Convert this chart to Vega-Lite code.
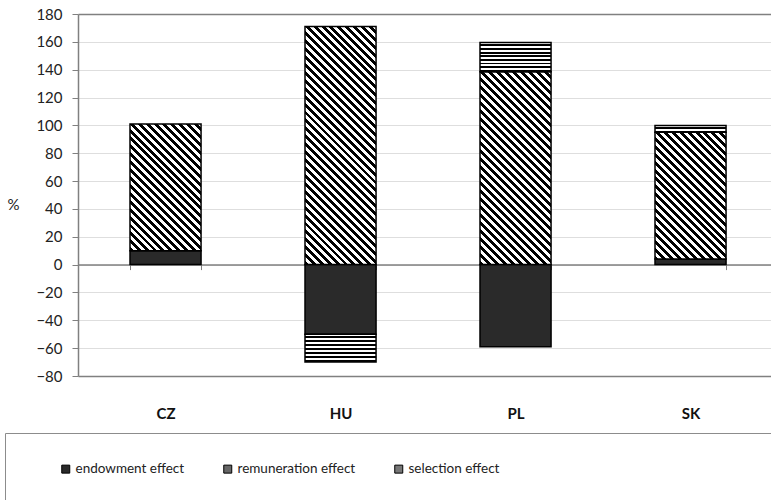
{
"$schema": "https://vega.github.io/schema/vega-lite/v6.json",
"width": 693,
"height": 362,
"autosize": {"type": "none"},
"padding": {"left": 78, "top": 14, "right": 0, "bottom": 124},
"background": "white",
"config": {"font": "Lato", "view": {"stroke": null}},
"data": {"values": [
{"country": "CZ", "effect": "endowment effect", "value": 10},
{"country": "CZ", "effect": "remuneration effect", "value": 91},
{"country": "HU", "effect": "endowment effect", "value": -50},
{"country": "HU", "effect": "remuneration effect", "value": 171},
{"country": "HU", "effect": "selection effect", "value": -20},
{"country": "PL", "effect": "endowment effect", "value": -59},
{"country": "PL", "effect": "remuneration effect", "value": 138.5},
{"country": "PL", "effect": "selection effect", "value": 21},
{"country": "SK", "effect": "endowment effect", "value": 4},
{"country": "SK", "effect": "remuneration effect", "value": 91},
{"country": "SK", "effect": "selection effect", "value": 5}
]},
"mark": {"type": "bar", "stroke": "#000", "strokeWidth": 1.5},
"encoding": {
"x": {"field": "country", "type": "nominal", "sort": ["CZ", "HU", "PL", "SK"],
 "scale": {"paddingInner": 0.594, "paddingOuter": 0.277, "align": 0.5364},
 "axis": {"title": null, "offset": -111.4, "domainColor": "#808080", "domainWidth": 1.5, "tickBand": "extent", "tickColor": "#808080", "tickSize": 5, "labelPadding": 137, "labelFontSize": 15, "labelFontWeight": "bold", "labelColor": "#111", "labelAngle": 0, "grid": false}},
"y": {"field": "value", "type": "quantitative", "stack": "zero",
 "scale": {"domain": [-80, 180], "nice": false, "zero": false},
 "axis": {"title": "%", "titleAngle": 0, "titleX": -65, "titleY": 190, "titleAlign": "center", "titleBaseline": "middle", "titleFontSize": 15, "titleFontWeight": "normal", "titleColor": "#222",
  "values": [-80, -60, -40, -20, 0, 20, 40, 60, 80, 100, 120, 140, 160, 180],
  "labelFontSize": 15, "labelColor": "#222", "labelPadding": 10, "tickSize": 6, "tickColor": "#808080", "domainColor": "#808080", "domainWidth": 1.5,
  "gridColor": {"condition": {"test": "datum.value === 180 || datum.value === -80", "value": "#808080"}, "value": "#bdbdbd"},
  "gridDash": {"condition": {"test": "datum.value === 180 || datum.value === -80", "value": []}, "value": [1, 1]},
  "gridWidth": {"condition": {"test": "datum.value === 180 || datum.value === -80", "value": 1.5}, "value": 1}}},
"order": {"field": "effect", "type": "nominal", "sort": "ascending"},
"fill": {"field": "effect", "type": "nominal",
 "scale": {"domain": ["endowment effect", "remuneration effect", "selection effect"], "range": ["#2a2a2a", "#666666", "#777777"]},
 "legend": {"orient": "none", "legendX": -73, "legendY": 419, "direction": "horizontal", "title": " ", "titleOrient": "left", "titlePadding": 25, "titleFontSize": 13, "padding": 29, "strokeColor": "#8c8c8c", "symbolType": "square", "symbolSize": 64, "symbolStrokeColor": "#000", "symbolStrokeWidth": 1, "labelFontSize": 13.5, "labelColor": "#222", "labelOffset": 3, "columnPadding": 36, "labelLimit": 2000,
  "labelExpr": "datum.label === 'selection effect' ? datum.label + '\u2800\u2800\u2800\u2800\u2800\u2800\u2800\u2800\u2800\u2800\u2800\u2800\u2800\u2800\u2800\u2800\u2800\u2800\u2800\u2800\u2800\u2800\u2800\u2800\u2800\u2800' : datum.label"},
 "condition": [
 {"test": "datum.effect === 'remuneration effect' && (datum.country === 'CZ' || datum.country === 'SK')",
  "value": {"gradient": "linear", "x1": 0, "y1": 1, "x2": 0.6659, "y2": -0.1874, "stops": [
{"offset":0,"color":"#000"},{"offset":0.02,"color":"#000"},{"offset":0.02,"color":"#fff"},{"offset":0.04,"color":"#fff"},
{"offset":0.04,"color":"#000"},{"offset":0.06,"color":"#000"},{"offset":0.06,"color":"#fff"},{"offset":0.08,"color":"#fff"},
{"offset":0.08,"color":"#000"},{"offset":0.10,"color":"#000"},{"offset":0.10,"color":"#fff"},{"offset":0.12,"color":"#fff"},
{"offset":0.12,"color":"#000"},{"offset":0.14,"color":"#000"},{"offset":0.14,"color":"#fff"},{"offset":0.16,"color":"#fff"},
{"offset":0.16,"color":"#000"},{"offset":0.18,"color":"#000"},{"offset":0.18,"color":"#fff"},{"offset":0.20,"color":"#fff"},
{"offset":0.20,"color":"#000"},{"offset":0.22,"color":"#000"},{"offset":0.22,"color":"#fff"},{"offset":0.24,"color":"#fff"},
{"offset":0.24,"color":"#000"},{"offset":0.26,"color":"#000"},{"offset":0.26,"color":"#fff"},{"offset":0.28,"color":"#fff"},
{"offset":0.28,"color":"#000"},{"offset":0.30,"color":"#000"},{"offset":0.30,"color":"#fff"},{"offset":0.32,"color":"#fff"},
{"offset":0.32,"color":"#000"},{"offset":0.34,"color":"#000"},{"offset":0.34,"color":"#fff"},{"offset":0.36,"color":"#fff"},
{"offset":0.36,"color":"#000"},{"offset":0.38,"color":"#000"},{"offset":0.38,"color":"#fff"},{"offset":0.40,"color":"#fff"},
{"offset":0.40,"color":"#000"},{"offset":0.42,"color":"#000"},{"offset":0.42,"color":"#fff"},{"offset":0.44,"color":"#fff"},
{"offset":0.44,"color":"#000"},{"offset":0.46,"color":"#000"},{"offset":0.46,"color":"#fff"},{"offset":0.48,"color":"#fff"},
{"offset":0.48,"color":"#000"},{"offset":0.50,"color":"#000"},{"offset":0.50,"color":"#fff"},{"offset":0.52,"color":"#fff"},
{"offset":0.52,"color":"#000"},{"offset":0.54,"color":"#000"},{"offset":0.54,"color":"#fff"},{"offset":0.56,"color":"#fff"},
{"offset":0.56,"color":"#000"},{"offset":0.58,"color":"#000"},{"offset":0.58,"color":"#fff"},{"offset":0.60,"color":"#fff"},
{"offset":0.60,"color":"#000"},{"offset":0.62,"color":"#000"},{"offset":0.62,"color":"#fff"},{"offset":0.64,"color":"#fff"},
{"offset":0.64,"color":"#000"},{"offset":0.66,"color":"#000"},{"offset":0.66,"color":"#fff"},{"offset":0.68,"color":"#fff"},
{"offset":0.68,"color":"#000"},{"offset":0.70,"color":"#000"},{"offset":0.70,"color":"#fff"},{"offset":0.72,"color":"#fff"},
{"offset":0.72,"color":"#000"},{"offset":0.74,"color":"#000"},{"offset":0.74,"color":"#fff"},{"offset":0.76,"color":"#fff"},
{"offset":0.76,"color":"#000"},{"offset":0.78,"color":"#000"},{"offset":0.78,"color":"#fff"},{"offset":0.80,"color":"#fff"},
{"offset":0.80,"color":"#000"},{"offset":0.82,"color":"#000"},{"offset":0.82,"color":"#fff"},{"offset":0.84,"color":"#fff"},
{"offset":0.84,"color":"#000"},{"offset":0.86,"color":"#000"},{"offset":0.86,"color":"#fff"},{"offset":0.88,"color":"#fff"},
{"offset":0.88,"color":"#000"},{"offset":0.90,"color":"#000"},{"offset":0.90,"color":"#fff"},{"offset":0.92,"color":"#fff"},
{"offset":0.92,"color":"#000"},{"offset":0.94,"color":"#000"},{"offset":0.94,"color":"#fff"},{"offset":0.96,"color":"#fff"},
{"offset":0.96,"color":"#000"},{"offset":0.98,"color":"#000"},{"offset":0.98,"color":"#fff"},{"offset":1,"color":"#fff"}
  ]}},
 {"test": "datum.effect === 'remuneration effect' && datum.country === 'HU'",
  "value": {"gradient": "linear", "x1": 0, "y1": 1, "x2": 0.3558, "y2": -0.1923, "stops": [
{"offset":0,"color":"#000"},{"offset":0.0128,"color":"#000"},{"offset":0.0128,"color":"#fff"},{"offset":0.0256,"color":"#fff"},
{"offset":0.0256,"color":"#000"},{"offset":0.0385,"color":"#000"},{"offset":0.0385,"color":"#fff"},{"offset":0.0513,"color":"#fff"},
{"offset":0.0513,"color":"#000"},{"offset":0.0641,"color":"#000"},{"offset":0.0641,"color":"#fff"},{"offset":0.0769,"color":"#fff"},
{"offset":0.0769,"color":"#000"},{"offset":0.0897,"color":"#000"},{"offset":0.0897,"color":"#fff"},{"offset":0.1026,"color":"#fff"},
{"offset":0.1026,"color":"#000"},{"offset":0.1154,"color":"#000"},{"offset":0.1154,"color":"#fff"},{"offset":0.1282,"color":"#fff"},
{"offset":0.1282,"color":"#000"},{"offset":0.141,"color":"#000"},{"offset":0.141,"color":"#fff"},{"offset":0.1538,"color":"#fff"},
{"offset":0.1538,"color":"#000"},{"offset":0.1667,"color":"#000"},{"offset":0.1667,"color":"#fff"},{"offset":0.1795,"color":"#fff"},
{"offset":0.1795,"color":"#000"},{"offset":0.1923,"color":"#000"},{"offset":0.1923,"color":"#fff"},{"offset":0.2051,"color":"#fff"},
{"offset":0.2051,"color":"#000"},{"offset":0.2179,"color":"#000"},{"offset":0.2179,"color":"#fff"},{"offset":0.2308,"color":"#fff"},
{"offset":0.2308,"color":"#000"},{"offset":0.2436,"color":"#000"},{"offset":0.2436,"color":"#fff"},{"offset":0.2564,"color":"#fff"},
{"offset":0.2564,"color":"#000"},{"offset":0.2692,"color":"#000"},{"offset":0.2692,"color":"#fff"},{"offset":0.2821,"color":"#fff"},
{"offset":0.2821,"color":"#000"},{"offset":0.2949,"color":"#000"},{"offset":0.2949,"color":"#fff"},{"offset":0.3077,"color":"#fff"},
{"offset":0.3077,"color":"#000"},{"offset":0.3205,"color":"#000"},{"offset":0.3205,"color":"#fff"},{"offset":0.3333,"color":"#fff"},
{"offset":0.3333,"color":"#000"},{"offset":0.3462,"color":"#000"},{"offset":0.3462,"color":"#fff"},{"offset":0.359,"color":"#fff"},
{"offset":0.359,"color":"#000"},{"offset":0.3718,"color":"#000"},{"offset":0.3718,"color":"#fff"},{"offset":0.3846,"color":"#fff"},
{"offset":0.3846,"color":"#000"},{"offset":0.3974,"color":"#000"},{"offset":0.3974,"color":"#fff"},{"offset":0.4103,"color":"#fff"},
{"offset":0.4103,"color":"#000"},{"offset":0.4231,"color":"#000"},{"offset":0.4231,"color":"#fff"},{"offset":0.4359,"color":"#fff"},
{"offset":0.4359,"color":"#000"},{"offset":0.4487,"color":"#000"},{"offset":0.4487,"color":"#fff"},{"offset":0.4615,"color":"#fff"},
{"offset":0.4615,"color":"#000"},{"offset":0.4744,"color":"#000"},{"offset":0.4744,"color":"#fff"},{"offset":0.4872,"color":"#fff"},
{"offset":0.4872,"color":"#000"},{"offset":0.5,"color":"#000"},{"offset":0.5,"color":"#fff"},{"offset":0.5128,"color":"#fff"},
{"offset":0.5128,"color":"#000"},{"offset":0.5256,"color":"#000"},{"offset":0.5256,"color":"#fff"},{"offset":0.5385,"color":"#fff"},
{"offset":0.5385,"color":"#000"},{"offset":0.5513,"color":"#000"},{"offset":0.5513,"color":"#fff"},{"offset":0.5641,"color":"#fff"},
{"offset":0.5641,"color":"#000"},{"offset":0.5769,"color":"#000"},{"offset":0.5769,"color":"#fff"},{"offset":0.5897,"color":"#fff"},
{"offset":0.5897,"color":"#000"},{"offset":0.6026,"color":"#000"},{"offset":0.6026,"color":"#fff"},{"offset":0.6154,"color":"#fff"},
{"offset":0.6154,"color":"#000"},{"offset":0.6282,"color":"#000"},{"offset":0.6282,"color":"#fff"},{"offset":0.641,"color":"#fff"},
{"offset":0.641,"color":"#000"},{"offset":0.6538,"color":"#000"},{"offset":0.6538,"color":"#fff"},{"offset":0.6667,"color":"#fff"},
{"offset":0.6667,"color":"#000"},{"offset":0.6795,"color":"#000"},{"offset":0.6795,"color":"#fff"},{"offset":0.6923,"color":"#fff"},
{"offset":0.6923,"color":"#000"},{"offset":0.7051,"color":"#000"},{"offset":0.7051,"color":"#fff"},{"offset":0.7179,"color":"#fff"},
{"offset":0.7179,"color":"#000"},{"offset":0.7308,"color":"#000"},{"offset":0.7308,"color":"#fff"},{"offset":0.7436,"color":"#fff"},
{"offset":0.7436,"color":"#000"},{"offset":0.7564,"color":"#000"},{"offset":0.7564,"color":"#fff"},{"offset":0.7692,"color":"#fff"},
{"offset":0.7692,"color":"#000"},{"offset":0.7821,"color":"#000"},{"offset":0.7821,"color":"#fff"},{"offset":0.7949,"color":"#fff"},
{"offset":0.7949,"color":"#000"},{"offset":0.8077,"color":"#000"},{"offset":0.8077,"color":"#fff"},{"offset":0.8205,"color":"#fff"},
{"offset":0.8205,"color":"#000"},{"offset":0.8333,"color":"#000"},{"offset":0.8333,"color":"#fff"},{"offset":0.8462,"color":"#fff"},
{"offset":0.8462,"color":"#000"},{"offset":0.859,"color":"#000"},{"offset":0.859,"color":"#fff"},{"offset":0.8718,"color":"#fff"},
{"offset":0.8718,"color":"#000"},{"offset":0.8846,"color":"#000"},{"offset":0.8846,"color":"#fff"},{"offset":0.8974,"color":"#fff"},
{"offset":0.8974,"color":"#000"},{"offset":0.9103,"color":"#000"},{"offset":0.9103,"color":"#fff"},{"offset":0.9231,"color":"#fff"},
{"offset":0.9231,"color":"#000"},{"offset":0.9359,"color":"#000"},{"offset":0.9359,"color":"#fff"},{"offset":0.9487,"color":"#fff"},
{"offset":0.9487,"color":"#000"},{"offset":0.9615,"color":"#000"},{"offset":0.9615,"color":"#fff"},{"offset":0.9744,"color":"#fff"},
{"offset":0.9744,"color":"#000"},{"offset":0.9872,"color":"#000"},{"offset":0.9872,"color":"#fff"},{"offset":1,"color":"#fff"}
  ]}},
 {"test": "datum.effect === 'remuneration effect' && datum.country === 'PL'",
  "value": {"gradient": "linear", "x1": 0, "y1": 1, "x2": 0.4439, "y2": -0.2049, "stops": [
{"offset":0,"color":"#000"},{"offset":0.0152,"color":"#000"},{"offset":0.0152,"color":"#fff"},{"offset":0.0303,"color":"#fff"},
{"offset":0.0303,"color":"#000"},{"offset":0.0455,"color":"#000"},{"offset":0.0455,"color":"#fff"},{"offset":0.0606,"color":"#fff"},
{"offset":0.0606,"color":"#000"},{"offset":0.0758,"color":"#000"},{"offset":0.0758,"color":"#fff"},{"offset":0.0909,"color":"#fff"},
{"offset":0.0909,"color":"#000"},{"offset":0.1061,"color":"#000"},{"offset":0.1061,"color":"#fff"},{"offset":0.1212,"color":"#fff"},
{"offset":0.1212,"color":"#000"},{"offset":0.1364,"color":"#000"},{"offset":0.1364,"color":"#fff"},{"offset":0.1515,"color":"#fff"},
{"offset":0.1515,"color":"#000"},{"offset":0.1667,"color":"#000"},{"offset":0.1667,"color":"#fff"},{"offset":0.1818,"color":"#fff"},
{"offset":0.1818,"color":"#000"},{"offset":0.197,"color":"#000"},{"offset":0.197,"color":"#fff"},{"offset":0.2121,"color":"#fff"},
{"offset":0.2121,"color":"#000"},{"offset":0.2273,"color":"#000"},{"offset":0.2273,"color":"#fff"},{"offset":0.2424,"color":"#fff"},
{"offset":0.2424,"color":"#000"},{"offset":0.2576,"color":"#000"},{"offset":0.2576,"color":"#fff"},{"offset":0.2727,"color":"#fff"},
{"offset":0.2727,"color":"#000"},{"offset":0.2879,"color":"#000"},{"offset":0.2879,"color":"#fff"},{"offset":0.303,"color":"#fff"},
{"offset":0.303,"color":"#000"},{"offset":0.3182,"color":"#000"},{"offset":0.3182,"color":"#fff"},{"offset":0.3333,"color":"#fff"},
{"offset":0.3333,"color":"#000"},{"offset":0.3485,"color":"#000"},{"offset":0.3485,"color":"#fff"},{"offset":0.3636,"color":"#fff"},
{"offset":0.3636,"color":"#000"},{"offset":0.3788,"color":"#000"},{"offset":0.3788,"color":"#fff"},{"offset":0.3939,"color":"#fff"},
{"offset":0.3939,"color":"#000"},{"offset":0.4091,"color":"#000"},{"offset":0.4091,"color":"#fff"},{"offset":0.4242,"color":"#fff"},
{"offset":0.4242,"color":"#000"},{"offset":0.4394,"color":"#000"},{"offset":0.4394,"color":"#fff"},{"offset":0.4545,"color":"#fff"},
{"offset":0.4545,"color":"#000"},{"offset":0.4697,"color":"#000"},{"offset":0.4697,"color":"#fff"},{"offset":0.4848,"color":"#fff"},
{"offset":0.4848,"color":"#000"},{"offset":0.5,"color":"#000"},{"offset":0.5,"color":"#fff"},{"offset":0.5152,"color":"#fff"},
{"offset":0.5152,"color":"#000"},{"offset":0.5303,"color":"#000"},{"offset":0.5303,"color":"#fff"},{"offset":0.5455,"color":"#fff"},
{"offset":0.5455,"color":"#000"},{"offset":0.5606,"color":"#000"},{"offset":0.5606,"color":"#fff"},{"offset":0.5758,"color":"#fff"},
{"offset":0.5758,"color":"#000"},{"offset":0.5909,"color":"#000"},{"offset":0.5909,"color":"#fff"},{"offset":0.6061,"color":"#fff"},
{"offset":0.6061,"color":"#000"},{"offset":0.6212,"color":"#000"},{"offset":0.6212,"color":"#fff"},{"offset":0.6364,"color":"#fff"},
{"offset":0.6364,"color":"#000"},{"offset":0.6515,"color":"#000"},{"offset":0.6515,"color":"#fff"},{"offset":0.6667,"color":"#fff"},
{"offset":0.6667,"color":"#000"},{"offset":0.6818,"color":"#000"},{"offset":0.6818,"color":"#fff"},{"offset":0.697,"color":"#fff"},
{"offset":0.697,"color":"#000"},{"offset":0.7121,"color":"#000"},{"offset":0.7121,"color":"#fff"},{"offset":0.7273,"color":"#fff"},
{"offset":0.7273,"color":"#000"},{"offset":0.7424,"color":"#000"},{"offset":0.7424,"color":"#fff"},{"offset":0.7576,"color":"#fff"},
{"offset":0.7576,"color":"#000"},{"offset":0.7727,"color":"#000"},{"offset":0.7727,"color":"#fff"},{"offset":0.7879,"color":"#fff"},
{"offset":0.7879,"color":"#000"},{"offset":0.803,"color":"#000"},{"offset":0.803,"color":"#fff"},{"offset":0.8182,"color":"#fff"},
{"offset":0.8182,"color":"#000"},{"offset":0.8333,"color":"#000"},{"offset":0.8333,"color":"#fff"},{"offset":0.8485,"color":"#fff"},
{"offset":0.8485,"color":"#000"},{"offset":0.8636,"color":"#000"},{"offset":0.8636,"color":"#fff"},{"offset":0.8788,"color":"#fff"},
{"offset":0.8788,"color":"#000"},{"offset":0.8939,"color":"#000"},{"offset":0.8939,"color":"#fff"},{"offset":0.9091,"color":"#fff"},
{"offset":0.9091,"color":"#000"},{"offset":0.9242,"color":"#000"},{"offset":0.9242,"color":"#fff"},{"offset":0.9394,"color":"#fff"},
{"offset":0.9394,"color":"#000"},{"offset":0.9545,"color":"#000"},{"offset":0.9545,"color":"#fff"},{"offset":0.9697,"color":"#fff"},
{"offset":0.9697,"color":"#000"},{"offset":0.9848,"color":"#000"},{"offset":0.9848,"color":"#fff"},{"offset":1,"color":"#fff"}
  ]}},
 {"test": "datum.effect === 'selection effect' && datum.country === 'HU'",
  "value": {"gradient": "linear", "x1": 0, "y1": 0, "x2": 0, "y2": 1, "stops": [
{"offset":0,"color":"#fff"},{"offset":0.0714,"color":"#fff"},{"offset":0.0714,"color":"#000"},{"offset":0.1429,"color":"#000"},
{"offset":0.1429,"color":"#fff"},{"offset":0.2143,"color":"#fff"},{"offset":0.2143,"color":"#000"},{"offset":0.2857,"color":"#000"},
{"offset":0.2857,"color":"#fff"},{"offset":0.3571,"color":"#fff"},{"offset":0.3571,"color":"#000"},{"offset":0.4286,"color":"#000"},
{"offset":0.4286,"color":"#fff"},{"offset":0.5,"color":"#fff"},{"offset":0.5,"color":"#000"},{"offset":0.5714,"color":"#000"},
{"offset":0.5714,"color":"#fff"},{"offset":0.6429,"color":"#fff"},{"offset":0.6429,"color":"#000"},{"offset":0.7143,"color":"#000"},
{"offset":0.7143,"color":"#fff"},{"offset":0.7857,"color":"#fff"},{"offset":0.7857,"color":"#000"},{"offset":0.8571,"color":"#000"},
{"offset":0.8571,"color":"#fff"},{"offset":0.9286,"color":"#fff"},{"offset":0.9286,"color":"#000"},{"offset":1,"color":"#000"}
  ]}},
 {"test": "datum.effect === 'selection effect' && datum.country === 'PL'",
  "value": {"gradient": "linear", "x1": 0, "y1": 0, "x2": 0, "y2": 1, "stops": [
{"offset":0,"color":"#fff"},{"offset":0.0625,"color":"#fff"},{"offset":0.0625,"color":"#000"},{"offset":0.125,"color":"#000"},
{"offset":0.125,"color":"#fff"},{"offset":0.1875,"color":"#fff"},{"offset":0.1875,"color":"#000"},{"offset":0.25,"color":"#000"},
{"offset":0.25,"color":"#fff"},{"offset":0.3125,"color":"#fff"},{"offset":0.3125,"color":"#000"},{"offset":0.375,"color":"#000"},
{"offset":0.375,"color":"#fff"},{"offset":0.4375,"color":"#fff"},{"offset":0.4375,"color":"#000"},{"offset":0.5,"color":"#000"},
{"offset":0.5,"color":"#fff"},{"offset":0.5625,"color":"#fff"},{"offset":0.5625,"color":"#000"},{"offset":0.625,"color":"#000"},
{"offset":0.625,"color":"#fff"},{"offset":0.6875,"color":"#fff"},{"offset":0.6875,"color":"#000"},{"offset":0.75,"color":"#000"},
{"offset":0.75,"color":"#fff"},{"offset":0.8125,"color":"#fff"},{"offset":0.8125,"color":"#000"},{"offset":0.875,"color":"#000"},
{"offset":0.875,"color":"#fff"},{"offset":0.9375,"color":"#fff"},{"offset":0.9375,"color":"#000"},{"offset":1,"color":"#000"}
  ]}},
 {"test": "datum.effect === 'selection effect' && datum.country === 'SK'",
  "value": {"gradient": "linear", "x1": 0, "y1": 0, "x2": 0, "y2": 1, "stops": [
{"offset":0,"color":"#fff"},{"offset":0.25,"color":"#fff"},{"offset":0.25,"color":"#000"},{"offset":0.5,"color":"#000"},
{"offset":0.5,"color":"#fff"},{"offset":0.75,"color":"#fff"},{"offset":0.75,"color":"#000"},{"offset":1,"color":"#000"}
  ]}}
 ]}
}
}
